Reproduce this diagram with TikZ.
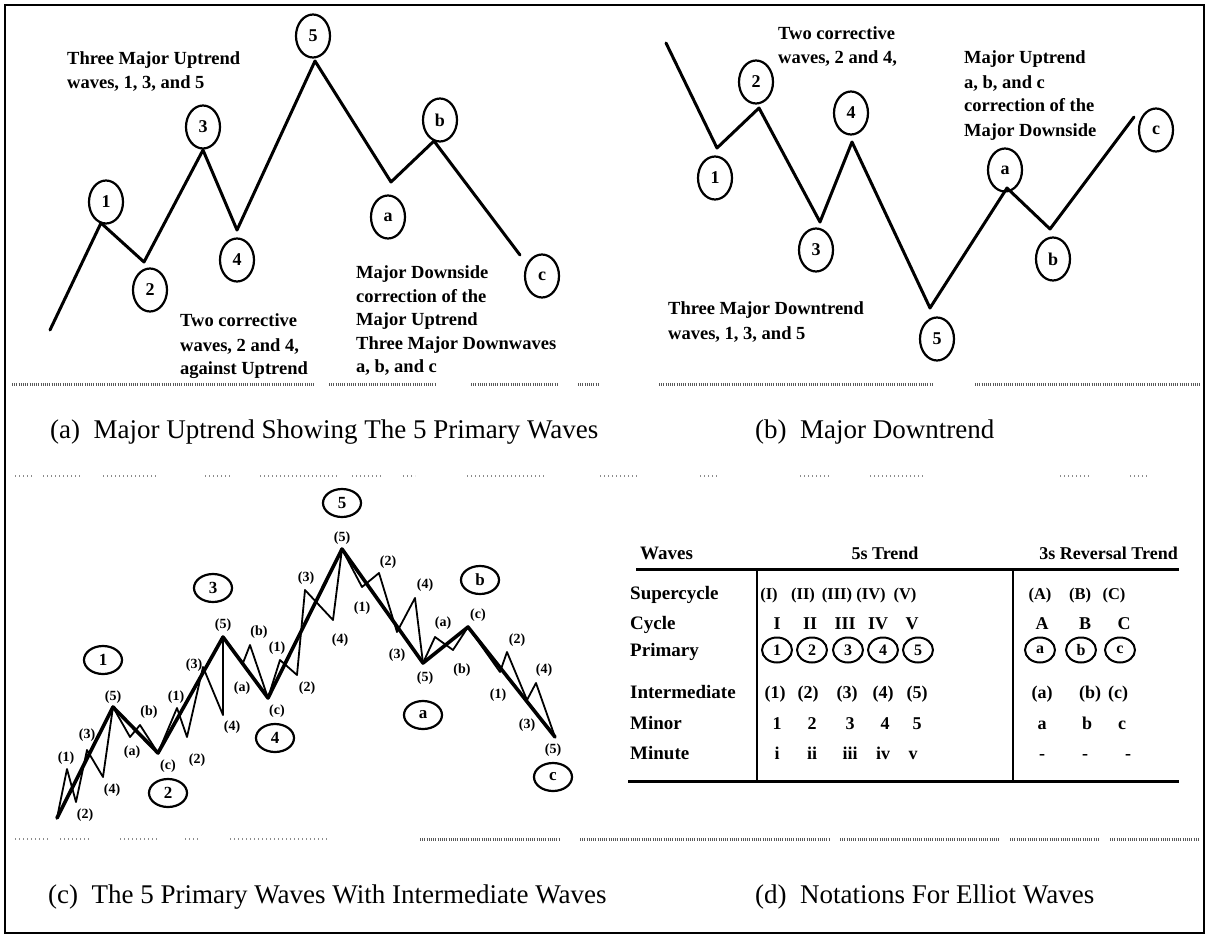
\documentclass[tikz,border=0pt]{standalone}
\usepackage{fontspec}
\setmainfont{Liberation Serif}
\usetikzlibrary{shapes.geometric}
\begin{document}
\begin{tikzpicture}[x=1pt,y=-1pt,
  ann/.style={inner sep=0pt,anchor=base west,font=\fontsize{18.5}{22}\selectfont\bfseries},
  capt/.style={inner sep=0pt,anchor=base west,font=\fontsize{27}{30}\selectfont},
  bigwave/.style={line width=3pt,line join=round,line cap=round},
  primwave/.style={line width=3.6pt,line join=round,line cap=round},
  subwave/.style={line width=1.8pt,line join=round,line cap=round},
  pcirc/.style={draw,ellipse,line width=2.2pt,inner sep=0pt,minimum width=34pt,minimum height=43pt,font=\fontsize{18}{18}\selectfont\bfseries},
  ccirc/.style={draw,ellipse,line width=2.2pt,inner sep=0pt,minimum width=38pt,minimum height=28pt,font=\fontsize{17}{17}\selectfont\bfseries},
  tcirc/.style={draw,ellipse,line width=2pt,inner sep=0pt,minimum width=30pt,minimum height=25pt,font=\fontsize{16}{16}\selectfont\bfseries},
  lab/.style={inner sep=0pt,font=\fontsize{14}{14}\selectfont\bfseries},
  tlab/.style={inner sep=0pt,anchor=base west,font=\fontsize{19}{19}\selectfont\bfseries},
  tval/.style={inner sep=0pt,anchor=base,font=\fontsize{18}{18}\selectfont\bfseries},
  sval/.style={inner sep=0pt,anchor=base,font=\fontsize{16.5}{16.5}\selectfont\bfseries},
  rulebar/.style={line width=3pt},
  hatch/.style={draw=black!65,line width=3pt,dash pattern=on 1pt off 1.2pt},
  lighthatch/.style={draw=black!45,line width=2pt,dash pattern=on 1pt off 3pt}
]
\useasboundingbox (0,0) rectangle (1213,937);
\fill[white] (0,0) rectangle (1213,937);
\draw[line width=2pt] (5,5) rectangle (1204,933);

% ---------------- panel (a) ----------------
\coordinate (a0) at (50,330);
\coordinate (a1) at (101,223);
\coordinate (a2) at (144,262);
\coordinate (a3) at (203,150);
\coordinate (a4) at (237,230);
\coordinate (a5) at (315,61);
\coordinate (aA) at (391,182);
\coordinate (aB) at (434,141);
\coordinate (aC) at (520,255);
\draw[bigwave] (a0) -- (a1) -- (a2) -- (a3) -- (a4) -- (a5) -- (aA) -- (aB) -- (aC);
\node[pcirc] (ca1) at (106,202) {1};
\node[pcirc] (ca2) at (150,290) {2};
\node[pcirc] (ca3) at (203,127) {3};
\node[pcirc] (ca4) at (237,260) {4};
\node[pcirc] (ca5) at (313,36) {5};
\node[pcirc] (caa) at (388,217) {a};
\node[pcirc] (cab) at (440,120) {b};
\node[pcirc] (cac) at (542,276) {c};
\node[ann] (ta1) at (67,64) {Three Major Uptrend};
\node[ann] (ta2) at (67,88) {waves, 1, 3, and 5};
\node[ann] (ta3) at (180,326) {Two corrective};
\node[ann] (ta4) at (180,351) {waves, 2 and 4,};
\node[ann] (ta5) at (180,374) {against Uptrend};
\node[ann] (ta6) at (356,278) {Major Downside};
\node[ann] (ta7) at (356,302) {correction of the};
\node[ann] (ta8) at (356,325) {Major Uptrend};
\node[ann] (ta9) at (356,349) {Three Major Downwaves};
\node[ann] (ta10) at (356,372) {a, b, and c};
\foreach \s/\e in {12/314,329/436,471/559,578/600,659/932,975/1200}
  \draw[hatch] (\s,384) -- (\e,384);
\node[capt] (capa) at (50,438) {(a)\ \ Major Uptrend Showing The 5 Primary Waves};

% ---------------- panel (b) ----------------
\coordinate (b0) at (666,43);
\coordinate (b1) at (717,148);
\coordinate (b2) at (759,108);
\coordinate (b3) at (820,222);
\coordinate (b4) at (852,142);
\coordinate (b5) at (930,308);
\coordinate (bA) at (1007,188);
\coordinate (bB) at (1050,229);
\coordinate (bC) at (1134,117);
\draw[bigwave] (b0) -- (b1) -- (b2) -- (b3) -- (b4) -- (b5) -- (bA) -- (bB) -- (bC);
\node[pcirc] (cb1) at (715,178) {1};
\node[pcirc] (cb2) at (756,82) {2};
\node[pcirc] (cb3) at (816,250) {3};
\node[pcirc] (cb4) at (851,113) {4};
\node[pcirc] (cb5) at (937,339) {5};
\node[pcirc] (cba) at (1005,170) {a};
\node[pcirc] (cbb) at (1053,259) {b};
\node[pcirc] (cbc) at (1156,130) {c};
\node[ann] (tb1) at (778,39) {Two corrective};
\node[ann] (tb2) at (778,63) {waves, 2 and 4,};
\node[ann] (tb3) at (964,63) {Major Uptrend};
\node[ann] (tb4) at (964,88) {a, b, and c};
\node[ann] (tb5) at (964,111) {correction of the};
\node[ann] (tb6) at (964,136) {Major Downside};
\node[ann] (tb7) at (668,314) {Three Major Downtrend};
\node[ann] (tb8) at (668,339) {waves, 1, 3, and 5};
\node[capt] (capb) at (755,438) {(b)\ \ Major Downtrend};

% ---------------- panel (c) ----------------
\foreach \s/\e in {15/32,43/83,103/157,205/233,260/338,352/382,403/415,467/545,600/640,700/720,800/830,870/925,1060/1090,1130/1150}
  \draw[lighthatch] (\s,476) -- (\e,476);
\coordinate (c0) at (57,818);
\coordinate (c1) at (113,707);
\coordinate (c2) at (158,753);
\coordinate (c3) at (223,637);
\coordinate (c4) at (268,698);
\coordinate (c5) at (342,549);
\coordinate (cA) at (423,663);
\coordinate (cB) at (468,627);
\coordinate (cC) at (555,737);
\draw[primwave] (c0) -- (c1) -- (c2) -- (c3) -- (c4) -- (c5) -- (cA) -- (cB) -- (cC);
\draw[subwave] (c0) -- (67,769) -- (76,802) -- (87,750) -- (103,777) -- (c1);
\draw[subwave] (c1) -- (130,737) -- (140,725) -- (c2);
\draw[subwave] (c2) -- (177,708) -- (187,737) -- (203,667) -- (223,715) -- (c3);
\draw[subwave] (c3) -- (243,663) -- (250,645) -- (c4);
\draw[subwave] (c4) -- (280,660) -- (297,675) -- (305,590) -- (333,620) -- (c5);
\draw[subwave] (c5) -- (362,587) -- (379,573) -- (397,632) -- (415,598) -- (cA);
\draw[subwave] (cA) -- (435,637) -- (453,650) -- (cB);
\draw[subwave] (cB) -- (500,672) -- (507,652) -- (527,700) -- (536,683) -- (cC);
% intermediate labels
\node[lab] (l11) at (66,758) {(1)};
\node[lab] (l12) at (85,815) {(2)};
\node[lab] (l13) at (87,735) {(3)};
\node[lab] (l14) at (112,790) {(4)};
\node[lab] (l15) at (113,697) {(5)};
\node[lab] (l2a) at (132,752) {(a)};
\node[lab] (l2b) at (149,712) {(b)};
\node[lab] (l2c) at (168,766) {(c)};
\node[lab] (l31) at (176,697) {(1)};
\node[lab] (l32) at (197,760) {(2)};
\node[lab] (l33) at (194,665) {(3)};
\node[lab] (l34) at (232,727) {(4)};
\node[lab] (l35) at (223,625) {(5)};
\node[lab] (l4a) at (242,688) {(a)};
\node[lab] (l4b) at (259,632) {(b)};
\node[lab] (l4c) at (277,711) {(c)};
\node[lab] (l51) at (277,648) {(1)};
\node[lab] (l52) at (307,688) {(2)};
\node[lab] (l53) at (306,578) {(3)};
\node[lab] (l54) at (340,640) {(4)};
\node[lab] (l55) at (342,538) {(5)};
\node[lab] (la1) at (362,608) {(1)};
\node[lab] (la2) at (388,562) {(2)};
\node[lab] (la3) at (397,655) {(3)};
\node[lab] (la4) at (425,585) {(4)};
\node[lab] (la5) at (425,678) {(5)};
\node[lab] (lba) at (443,623) {(a)};
\node[lab] (lbb) at (462,670) {(b)};
\node[lab] (lbc) at (478,615) {(c)};
\node[lab] (lc1) at (498,695) {(1)};
\node[lab] (lc2) at (517,640) {(2)};
\node[lab] (lc3) at (527,725) {(3)};
\node[lab] (lc4) at (544,670) {(4)};
\node[lab] (lc5) at (553,750) {(5)};
% primary circles
\node[ccirc] (cc1) at (103,660) {1};
\node[ccirc] (cc2) at (168,793) {2};
\node[ccirc] (cc3) at (213,588) {3};
\node[ccirc] (cc4) at (275,738) {4};
\node[ccirc] (cc5) at (342,503) {5};
\node[ccirc] (cca) at (423,715) {a};
\node[ccirc] (ccb) at (480,580) {b};
\node[ccirc] (ccc) at (553,777) {c};
\foreach \s/\e in {15/50,60/90,120/160,185/200,230/330}
  \draw[lighthatch] (\s,839) -- (\e,839);
\foreach \s/\e in {420/560,580/830,840/1000,1010/1100,1110/1200}
  \draw[hatch] (\s,839) -- (\e,839);
\node[capt] (capc) at (48,903) {(c)\ \ The 5 Primary Waves With Intermediate Waves};

% ---------------- panel (d) table ----------------
\node[tlab] (hw) at (640,559) {Waves};
\node[tval] (h5) at (885,559) {5s Trend};
\node[inner sep=0pt,anchor=base east,font=\fontsize{18}{18}\selectfont\bfseries] (h3) at (1178,559) {3s Reversal Trend};
\coordinate (rt0) at (636,569);
\coordinate (rt1) at (1179,569);
\coordinate (rb0) at (628,781);
\coordinate (rb1) at (1179,781);
\draw[rulebar] (rt0) -- (rt1);
\draw[rulebar] (rb0) -- (rb1);
\coordinate (v1t) at (757,569);
\coordinate (v1b) at (757,781);
\coordinate (v2t) at (1013,569);
\coordinate (v2b) at (1013,781);
\draw[line width=2.5pt] (v1t) -- (v1b);
\draw[line width=2.5pt] (v2t) -- (v2b);
\node[tlab] (rs) at (630,599) {Supercycle};
\node[tlab] (rc) at (630,629) {Cycle};
\node[tlab] (rp) at (630,656) {Primary};
\node[tlab] (ri) at (630,698) {Intermediate};
\node[tlab] (rm) at (630,729) {Minor};
\node[tlab] (rn) at (630,759) {Minute};
% supercycle
\node[sval] (s1) at (769,599) {(I)};
\node[sval] (s2) at (803,599) {(II)};
\node[sval] (s3) at (837,599) {(III)};
\node[sval] (s4) at (871,599) {(IV)};
\node[sval] (s5) at (905,599) {(V)};
\node[sval] (sA) at (1040,599) {(A)};
\node[sval] (sB) at (1080,599) {(B)};
\node[sval] (sC) at (1114,599) {(C)};
% cycle
\node[tval] (y1) at (777,629) {I};
\node[tval] (y2) at (810,629) {II};
\node[tval] (y3) at (845,629) {III};
\node[tval] (y4) at (878,629) {IV};
\node[tval] (y5) at (912,629) {V};
\node[tval] (yA) at (1042,629) {A};
\node[tval] (yB) at (1085,629) {B};
\node[tval] (yC) at (1124,629) {C};
% primary
\node[tcirc] (p1) at (777,650) {1};
\node[tcirc] (p2) at (812,650) {2};
\node[tcirc] (p3) at (848,650) {3};
\node[tcirc] (p4) at (883,650) {4};
\node[tcirc] (p5) at (918,650) {5};
\node[tcirc] (pA) at (1040,650) {a};
\node[tcirc] (pB) at (1081,650) {b};
\node[tcirc] (pC) at (1120,650) {c};
% intermediate
\node[tval] (i1) at (775,698) {(1)};
\node[tval] (i2) at (808,698) {(2)};
\node[tval] (i3) at (847,698) {(3)};
\node[tval] (i4) at (883,698) {(4)};
\node[tval] (i5) at (917,698) {(5)};
\node[tval] (iA) at (1042,698) {(a)};
\node[tval] (iB) at (1090,698) {(b)};
\node[tval] (iC) at (1118,698) {(c)};
% minor
\node[tval] (m1) at (777,729) {1};
\node[tval] (m2) at (812,729) {2};
\node[tval] (m3) at (850,729) {3};
\node[tval] (m4) at (885,729) {4};
\node[tval] (m5) at (917,729) {5};
\node[tval] (mA) at (1042,729) {a};
\node[tval] (mB) at (1087,729) {b};
\node[tval] (mC) at (1122,729) {c};
% minute
\node[tval] (n1) at (777,759) {i};
\node[tval] (n2) at (812,759) {ii};
\node[tval] (n3) at (850,759) {iii};
\node[tval] (n4) at (883,759) {iv};
\node[tval] (n5) at (913,759) {v};
\node[tval] (nA) at (1042,759) {-};
\node[tval] (nB) at (1085,759) {-};
\node[tval] (nC) at (1128,759) {-};
\node[capt] (capd) at (755,903) {(d)\ \ Notations For Elliot Waves};
\end{tikzpicture}
\end{document}
